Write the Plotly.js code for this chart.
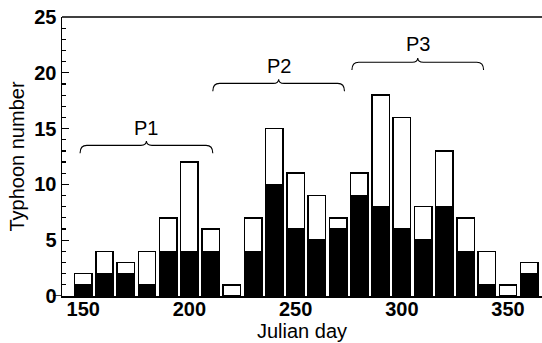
<!DOCTYPE html>
<html>
<head>
<meta charset="utf-8">
<script src="https://cdn.plot.ly/plotly-3.0.1.min.js"></script>
<style>html,body{margin:0;padding:0;background:#fff;}#chart{width:542px;height:343px;}</style>
</head>
<body>
<div id="chart"></div>
<script>
// Julian day (bin centres)
const days = [150,160,170,180,190,200,210,220,230,240,250,260,270,280,290,300,310,320,330,340,350,360];
// total typhoon number per bin
const totalCount = [2,4,3,4,7,12,6,1,7,15,11,9,7,11,18,16,8,13,7,4,1,3];
// black (lower) part per bin
const blackCount = [1,2,2,1,4,4,4,0,4,10,6,5,6,9,8,6,5,8,4,1,0,2];
// period braces
const braceLabels = ['P1','P2','P3'];
const braceStart = [148.5,211,276.5];
const braceEnd = [211,273,338.5];
const braceLevel = [13.5,19.05,20.95];
const xTickVals = [150,200,250,300,350];
const yTickVals = [0,5,10,15,20,25];

const whiteCount = totalCount.map((t,i)=>t-blackCount[i]);
const barW = 8.2;
const lineStyle = {color:'#000', width:1.5};

const traces = [
  {type:'bar', x:days, y:blackCount, width:barW, marker:{color:'#000', line:lineStyle}, hoverinfo:'skip', showlegend:false},
  {type:'bar', x:days, y:whiteCount, width:barW, marker:{color:'#fff', line:lineStyle}, hoverinfo:'skip', showlegend:false}
];

const shapes = [];
const annotations = [];
const hook = 0.7, tip = 0.38, r = 3.2, rt = 2.6;
for (let i=0;i<braceLabels.length;i++){
  const x0 = braceStart[i], x1 = braceEnd[i], y = braceLevel[i], xm = (x0+x1)/2;
  const p = `M ${x0},${y-hook} Q ${x0},${y} ${x0+r},${y} L ${xm-rt},${y} Q ${xm},${y} ${xm},${y+tip} Q ${xm},${y} ${xm+rt},${y} L ${x1-r},${y} Q ${x1},${y} ${x1},${y-hook}`;
  shapes.push({type:'path', xref:'x', yref:'y', path:p, line:{color:'#000', width:1.1}});
  annotations.push({xref:'x', yref:'y', x:xm, y:y+tip+0.05, text:braceLabels[i], showarrow:false, yanchor:'bottom',
    font:{family:'Liberation Sans, Arial, sans-serif', size:20, color:'#000'}});
}
// top frame line
shapes.push({type:'line', xref:'paper', yref:'paper', x0:0, x1:1, y0:1, y1:1, line:{color:'#000', width:1.5}});
// x axis line extending left of y axis
shapes.push({type:'line', xref:'paper', yref:'y', x0:-0.019, x1:0, y0:0, y1:0, line:{color:'#000', width:1.5}});

const tickFont = {family:'Liberation Sans, Arial, sans-serif', size:20, color:'#000'};
const titleFont = {family:'Liberation Sans, Arial, sans-serif', size:20, color:'#000'};

const layout = {
  width:542, height:343,
  margin:{l:62, r:0, t:17, b:47, pad:0},
  paper_bgcolor:'#fff', plot_bgcolor:'#fff',
  barmode:'stack',
  showlegend:false,
  xaxis:{
    range:[140,366], showgrid:false, zeroline:false,
    showline:true, linecolor:'#000', linewidth:1.5,
    tickmode:'array', tickvals:xTickVals, ticktext:xTickVals.map(v=>'<b>'+v+'</b>'),
    ticks:'', ticklabelstandoff:-6,
    tickfont:tickFont,
    title:{text:'Julian day', font:titleFont, standoff:0}
  },
  xaxis2:{
    overlaying:'x', anchor:'y', side:'bottom',
    range:[140,366], showgrid:false, zeroline:false, showline:false,
    showticklabels:false, tickmode:'linear', tick0:0, dtick:10,
    ticks:'outside', ticklen:5, tickwidth:1.2, tickcolor:'#000'
  },
  yaxis:{
    range:[0,25], showgrid:false, zeroline:false,
    showline:true, linecolor:'#000', linewidth:1.5,
    tickmode:'array', tickvals:yTickVals, ticktext:yTickVals.map(v=>'<b>'+v+'</b>'),
    ticks:'inside', ticklen:7, tickwidth:1.2, tickcolor:'#000',
    minor:{dtick:1, tick0:0, ticks:'inside', ticklen:4, tickwidth:1.2, tickcolor:'#000'},
    tickfont:tickFont,
    title:{text:'Typhoon number', font:titleFont, standoff:4}
  },
  shapes:shapes,
  annotations:annotations
};

Plotly.newPlot('chart', traces, layout, {staticPlot:true, displayModeBar:false});
</script>
</body>
</html>
